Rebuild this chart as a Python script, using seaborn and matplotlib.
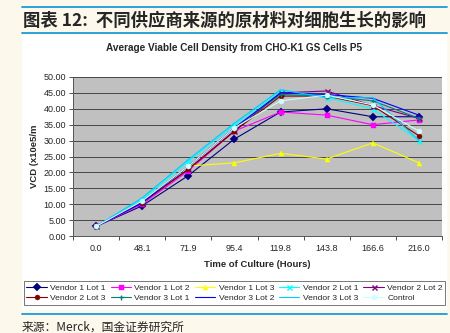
import matplotlib
matplotlib.use("Agg")
import matplotlib.pyplot as plt
from matplotlib.lines import Line2D
import seaborn as sns
import pandas as pd
import numpy as np

sns.set_theme(style="white")
plt.rcParams['font.family'] = ['Liberation Sans', 'Noto Sans CJK SC', 'DejaVu Sans']

# ---------------- data ----------------
hours = ["0.0", "48.1", "71.9", "95.4", "119.8", "143.8", "166.6", "216.0"]
v1_lot1 = [3.0, 9.5, 19.0, 30.5, 39.0, 40.0, 37.5, 37.5]
v1_lot2 = [3.0, 10.0, 20.5, 33.0, 39.0, 38.0, 35.0, 36.5]
v1_lot3 = [3.0, 11.0, 22.0, 23.0, 26.0, 24.2, 29.3, 23.0]
v2_lot1 = [3.0, 11.5, 23.5, 35.0, 45.5, 43.5, 40.0, 30.0]
v2_lot2 = [3.0, 10.5, 21.0, 33.0, 45.0, 45.6, 41.0, 37.0]
v2_lot3 = [3.0, 10.5, 21.0, 33.0, 44.0, 44.0, 41.0, 31.5]
v3_lot1 = [3.0, 11.0, 22.0, 34.0, 44.5, 44.0, 42.5, 37.0]
v3_lot2 = [3.0, 10.5, 22.0, 34.0, 45.0, 44.5, 43.3, 38.0]
v3_lot3 = [3.0, 12.0, 24.0, 35.5, 46.0, 43.5, 43.5, 30.0]
control = [3.0, 11.0, 22.0, 34.0, 42.5, 44.3, 41.2, 33.0]

series_names = ["Vendor 1 Lot 1", "Vendor 1 Lot 2", "Vendor 1 Lot 3", "Vendor 2 Lot 1",
                "Vendor 2 Lot 2", "Vendor 2 Lot 3", "Vendor 3 Lot 1", "Vendor 3 Lot 2",
                "Vendor 3 Lot 3", "Control"]
series_values = [v1_lot1, v1_lot2, v1_lot3, v2_lot1, v2_lot2, v2_lot3,
                 v3_lot1, v3_lot2, v3_lot3, control]

colors = ["#000080", "#FF00FF", "#FFFF00", "#00FFFF", "#800080",
          "#800000", "#008080", "#0000FF", "#00CCFF", "#CCFFFF"]
markers = ["D", "s", "^", "x", "x", "o", "+", "", "", "o"]

# ---------------- figure ----------------
W, H = 450, 333
fig = plt.figure(figsize=(W / 100, H / 100), dpi=100)
fig.patch.set_facecolor("#FDF8EC")

def fx(px):
    return px / W

def fy(py):
    return 1 - py / H

# white chart panel
panel = plt.Rectangle((fx(22), fy(310)), fx(447) - fx(22), fy(35) - fy(310),
                      transform=fig.transFigure, facecolor="white",
                      edgecolor="none", zorder=-5)
fig.add_artist(panel)
# blue rules
for yy in (7, 33, 314):
    fig.add_artist(Line2D([fx(22), fx(447)], [fy(yy), fy(yy)], transform=fig.transFigure,
                          color="#1A9AD8", lw=1.3))

fig.text(fx(23), fy(21), "图表 12:  不同供应商来源的原材料对细胞生长的影响",
         fontsize=12.5, fontweight="bold", va="center", ha="left",
         family=["Noto Sans CJK SC", "DejaVu Sans"])
fig.text(fx(22), fy(327), "来源：Merck，国金证券研究所", fontsize=8.5, va="center", ha="left",
         family=["Noto Sans CJK SC", "DejaVu Sans"])

ax = fig.add_axes([fx(73), fy(236), fx(442) - fx(73), fy(77) - fy(236)])
ax.set_zorder(2)
ax.set_facecolor("#C0C0C0")

xs = np.arange(len(hours))
for name, vals, c, m in zip(series_names, series_values, colors, markers):
    df = pd.DataFrame({"x": xs, "y": vals})
    kw = {}
    if m:
        kw = dict(marker=m, markersize=3.6, markeredgewidth=1.0 if m in ("x", "+") else 0.3,
                  markeredgecolor=c)
    sns.lineplot(data=df, x="x", y="y", ax=ax, color=c, lw=0.8, label=name,
                 legend=False, **kw)

ax.set_xlim(-0.5, len(hours) - 0.5)
ax.set_ylim(0, 50)
ax.set_yticks(np.arange(0, 50.01, 5))
ax.set_yticklabels([f"{v:.2f}" for v in np.arange(0, 50.01, 5)], fontsize=6.5)
ax.set_xticks(xs)
ax.set_xticklabels(hours, fontsize=6.5)
ax.set_xticks(np.arange(-0.5, len(hours), 1), minor=True)
ax.tick_params(axis="x", which="major", length=0, pad=6)
ax.tick_params(axis="x", which="minor", length=3, width=0.6, color="#333333", direction="out",
               bottom=True)
ax.tick_params(axis="y", length=3, width=0.6, color="#333333", direction="out", pad=2,
               left=True)
ax.grid(axis="y", color="#333333", lw=0.6)
ax.set_axisbelow(True)
for s in ("top", "right"):
    ax.spines[s].set_visible(False)
for s in ("left", "bottom"):
    ax.spines[s].set_color("#555555")
    ax.spines[s].set_linewidth(0.7)
ax.set_xlabel("Time of Culture (Hours)", fontsize=6.8, fontweight="bold", labelpad=5)
ax.set_ylabel("VCD (x10e5/m", fontsize=6.8, fontweight="bold", labelpad=3)
fig.text(fx(234), fy(48), "Average Viable Cell Density from CHO-K1 GS Cells P5",
         fontsize=7.2, fontweight="bold", ha="center", va="center")

handles, labels = ax.get_legend_handles_labels()
order = [0, 5, 1, 6, 2, 7, 3, 8, 4, 9]
leg = fig.legend([handles[i] for i in order], [labels[i] for i in order], ncol=5,
                 loc="center", bbox_to_anchor=(fx(234.5), fy(293)), fontsize=6.1,
                 frameon=True, fancybox=False, edgecolor="#555555", handlelength=2.4,
                 handletextpad=0.4, columnspacing=0.6, borderpad=0.3, labelspacing=0.35)
leg.get_frame().set_linewidth(0.7)

fig.savefig("out.png", dpi=100, facecolor=fig.get_facecolor())
